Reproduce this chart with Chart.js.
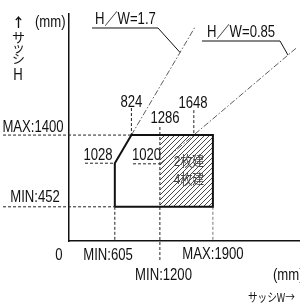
<!DOCTYPE html>
<html>
<head>
<meta charset="utf-8">
<script src="https://cdn.jsdelivr.net/npm/chart.js@4.4.0/dist/chart.umd.min.js"></script>
<style>
  html, body { margin: 0; padding: 0; background: #fff; }
  #wrap { width: 300px; height: 307px; position: relative; }
</style>
</head>
<body>
<div id="wrap"><canvas id="chart"></canvas></div>
<script>
// Sash size range, W (mm) x H (mm)
const boxW = [605, 605, 824, 1900, 1900, 605];
const boxH = [452, 1028, 1400, 1400, 452, 452];

// hatched zone (2 / 4 panel sliding)
const panelW = [1200, 1900, 1900, 1200, 1200];
const panelH = [452, 452, 1400, 1400, 452];

// H/W ratio lines
const ratioNames = ['H／W=1.7', 'H／W=0.85'];
const ratioFromW = [824, 1200];
const ratioFromH = [1400, 1020];
const ratioToW = [1662, 3010];
const ratioToH = [2825, 2558];

// dashed guide lines
const guideFromW = [-871, -871, 211, 845, 824, 1648, 1200, 605, 1900];
const guideFromH = [1400, 452, 1028, 1020, 1757, 1730, 1506, 452, 452];
const guideToW = [824, 605, 605, 1200, 824, 1648, 1200, 605, 1900];
const guideToH = [1400, 452, 1028, 1020, 1400, 1400, -277, 0, 0];

// value labels
const valueLabels = ['824', '1286', '1648', 'MAX:1400', '1028', '1020', 'MIN:452', '0', 'MIN:605', 'MAX:1900', 'MIN:1200'];
const valueLabelW = [824, 1268, 1637, -475, 383, 1023, -449, -132, 515, 1901, 1248];
const valueLabelH = [1824, 1612, 1810, 1500, 1130, 1130, 575, -198, -198, -185, -463];

const panelLabels = ['2枚建', '4枚建'];
const panelLabelW = [1584, 1584];
const panelLabelH = [1037, 806];

const LATIN = "'Liberation Sans', Arial, sans-serif";
const CJK = "'Liberation Sans', 'Noto Sans CJK JP', sans-serif";
const JP = "'Noto Sans CJK JP', sans-serif";
const NARROW = 0.82; // the original type is a condensed face

const pts = (ws, hs) => ws.map((w, i) => ({ x: w, y: hs[i] }));

// diagonal hatch
function hatchPattern() {
    const c = document.createElement('canvas');
    c.width = 5; c.height = 5;
    const g = c.getContext('2d');
    g.strokeStyle = '#333';
    g.lineWidth = 0.9;
    g.beginPath();
    g.moveTo(-1, 6); g.lineTo(6, -1);
    g.moveTo(-1, 1); g.lineTo(1, -1);
    g.moveTo(4, 6); g.lineTo(6, 4);
    g.stroke();
    return g.createPattern(c, 'repeat');
}

const datasets = [];

datasets.push({
    data: pts(boxW, boxH),
    showLine: true, pointRadius: 0, clip: false,
    borderColor: '#111', borderWidth: 2, order: 0
});

guideFromW.forEach((w, i) => {
    datasets.push({
        data: [{ x: w, y: guideFromH[i] }, { x: guideToW[i], y: guideToH[i] }],
        showLine: true, pointRadius: 0, clip: false,
        borderColor: i === 8 ? '#777' : '#222', borderWidth: 1,
        borderDash: [3, 2], order: 1
    });
});

ratioFromW.forEach((w, i) => {
    datasets.push({
        data: [{ x: w, y: ratioFromH[i] }, { x: ratioToW[i], y: ratioToH[i] }],
        showLine: true, pointRadius: 0, clip: false,
        borderColor: '#333', borderWidth: 0.8,
        borderDash: [6, 2, 1.5, 2], order: 1
    });
});

datasets.push({
    data: pts(panelW, panelH),
    showLine: true, pointRadius: 0, clip: false,
    borderWidth: 0, fill: 'shape',
    backgroundColor: hatchPattern(), order: 2
});

// leader lines of the ratio names
const leaderW = [[304, 1175, 1466], [1756, 2786, 2891]];
const leaderH = [[2815, 2815, 2492], [2643, 2643, 2458]];
leaderW.forEach((ws, i) => {
    datasets.push({
        data: pts(ws, leaderH[i]),
        showLine: true, pointRadius: 0, clip: false,
        borderColor: '#111', borderWidth: 1, order: 1
    });
});

const textPlugin = {
    id: 'texts',
    afterDatasetsDraw(chart) {
        const { ctx, scales: { x, y } } = chart;
        const put = (txt, w, h, font, color, align, squeeze) => {
            ctx.save();
            ctx.font = font;
            ctx.fillStyle = color || '#111';
            ctx.textAlign = align || 'center';
            ctx.textBaseline = 'middle';
            ctx.translate(x.getPixelForValue(w), y.getPixelForValue(h));
            ctx.scale(squeeze || NARROW, 1);
            ctx.fillText(txt, 0, 0);
            ctx.restore();
        };
        valueLabels.forEach((t, i) => put(t, valueLabelW[i], valueLabelH[i], '16px ' + LATIN));
        panelLabels.forEach((t, i) => put(t, panelLabelW[i], panelLabelH[i], '14px ' + CJK, '#444', 'center', 0.85));
        put(ratioNames[0], 343, 2921, '16px ' + CJK, '#111', 'left');
        put(ratioNames[1], 1822, 2749, '16px ' + CJK, '#111', 'left');
        // axis titles
        put('↑', -667, 2887, 'bold 13px ' + JP, '#111', 'center', 1);
        put('(mm)', -449, 2881, '16px ' + LATIN, '#111', 'left');
        ['サ', 'ッ', 'シ'].forEach((c, i) => put(c, -667, [2689, 2557, 2418][i], '13px ' + JP, '#111', 'center', 1));
        put('H', -673, 2180, '16px ' + LATIN);
        put('(mm)', 2693, -463, '16px ' + LATIN, '#111', 'left');
        put('サッシW→', 2363, -740, '12px ' + JP, '#111', 'left', 0.8);
    }
};

new Chart(document.getElementById('chart'), {
    type: 'scatter',
    data: { datasets },
    options: {
        responsive: true,
        maintainAspectRatio: false,
        animation: false,
        devicePixelRatio: 1,
        layout: { padding: { left: 69, right: 0, top: 14, bottom: 66 } },
        plugins: { legend: { display: false }, tooltip: { enabled: false } },
        scales: {
            x: {
                type: 'linear', min: 0, max: 3050,
                grid: { display: false, drawTicks: false },
                ticks: { display: false },
                border: { display: true, color: '#111', width: 1.5 }
            },
            y: {
                type: 'linear', min: 0, max: 3000,
                grid: { display: false, drawTicks: false },
                ticks: { display: false },
                border: { display: true, color: '#111', width: 1.5 }
            }
        }
    },
    plugins: [textPlugin]
});
</script>
</body>
</html>
